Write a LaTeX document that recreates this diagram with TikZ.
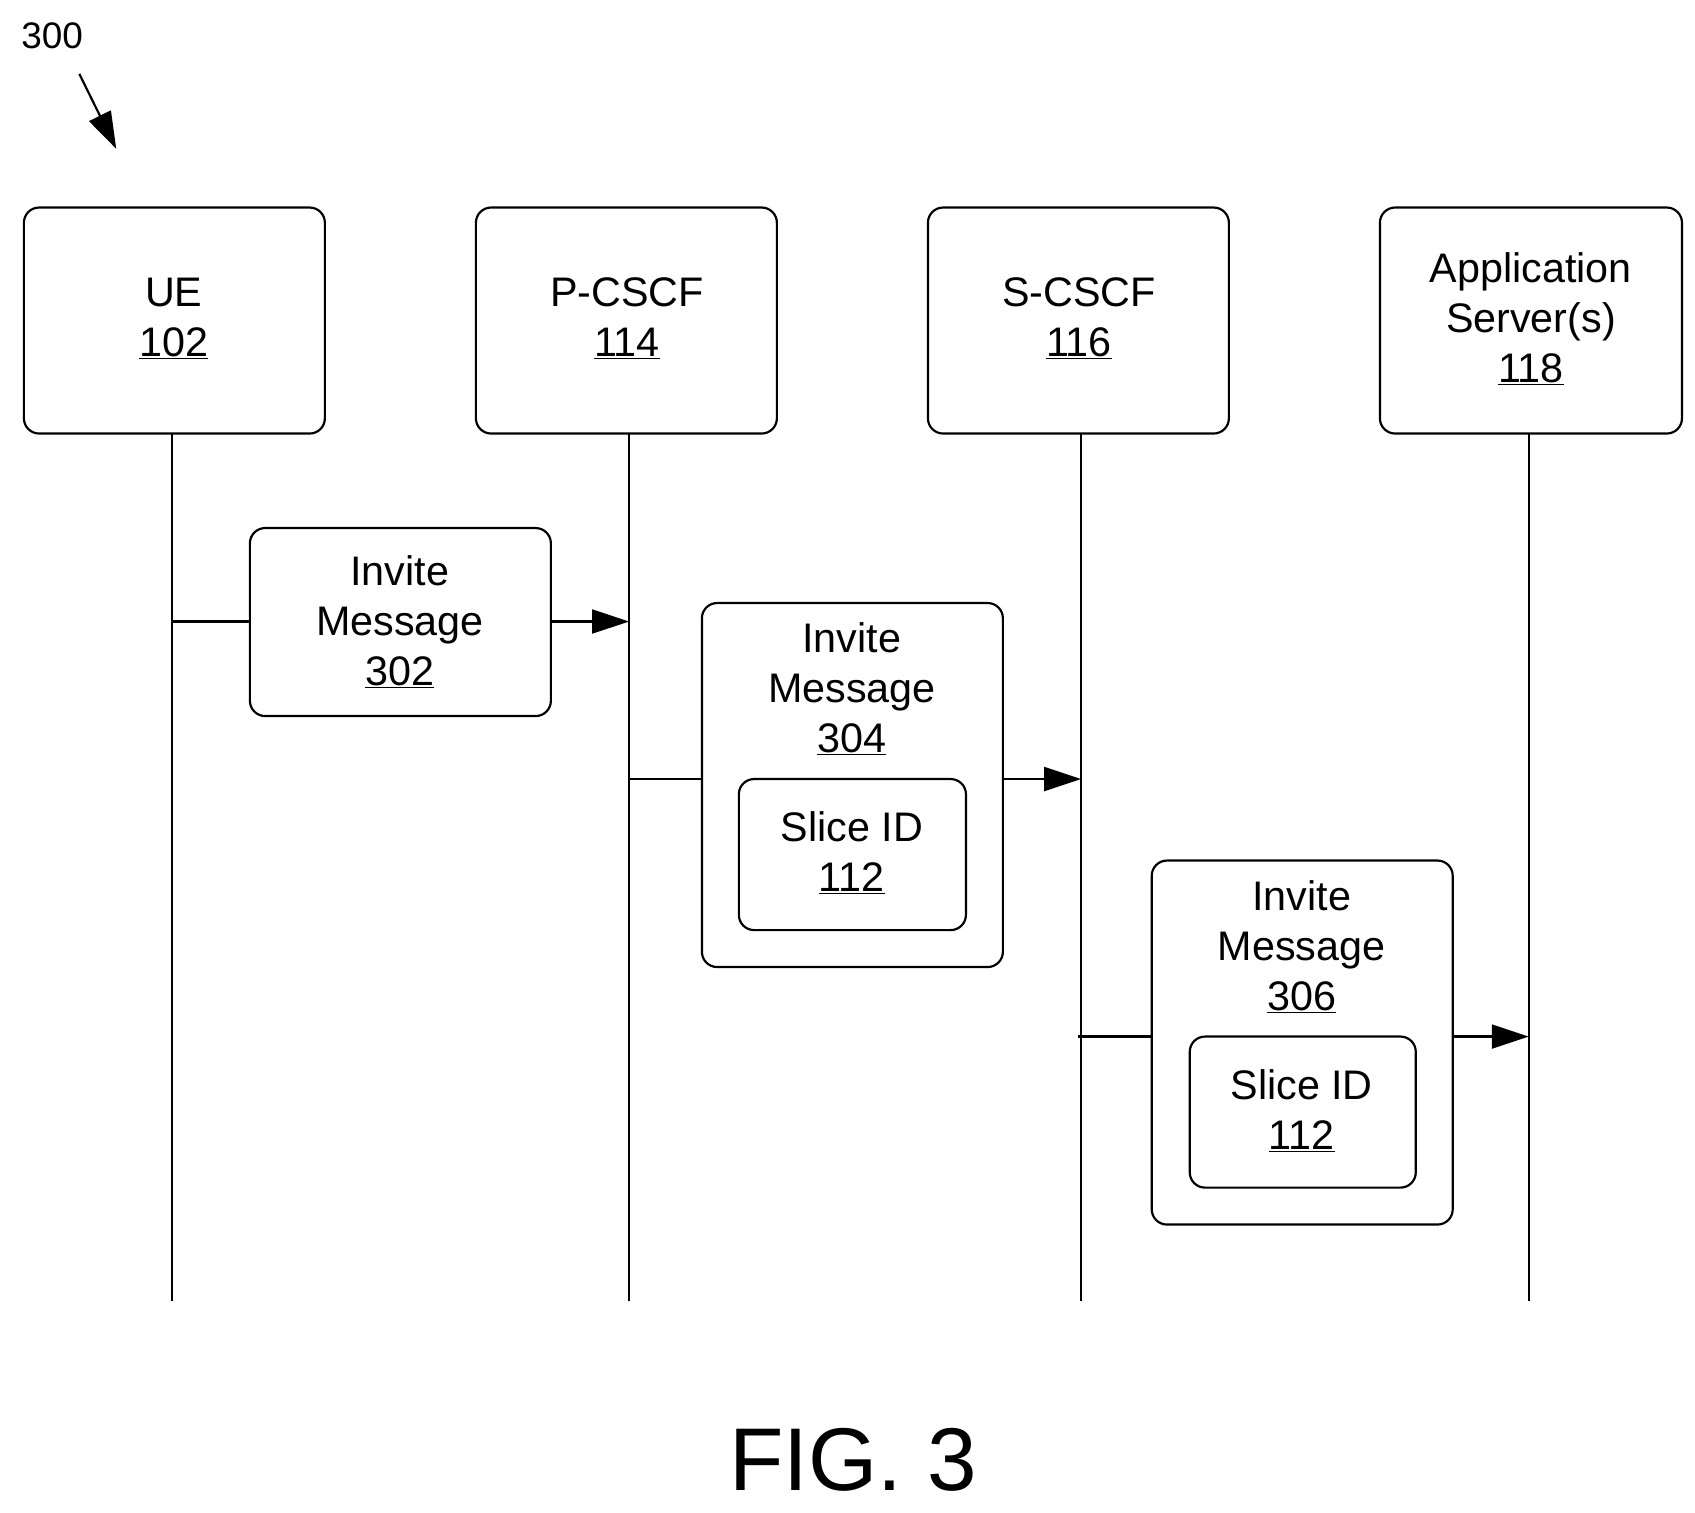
\documentclass[tikz,border=0pt]{standalone}
\usepackage{fontspec}
\setmainfont{Liberation Sans}
\usetikzlibrary{arrows.meta}
\begin{document}
\begin{tikzpicture}[x=1pt,y=-1pt,
  box/.style={draw,line width=2pt,rounded corners=14pt},
  txt/.style={align=center,font=\fontsize{38}{46}\selectfont},
  life/.style={line width=2pt},
  msg/.style={line width=2pt,-{Triangle[length=34pt,width=22pt]}}]
\useasboundingbox (0,0) rectangle (1560,1392);
\node[anchor=center,font=\fontsize{34}{40}\selectfont] (lbl) at (48,33) {300};
\coordinate (a1) at (73,68); \coordinate (a2) at (107,137);
\draw[msg] (a1) -- (a2);
% headers
\draw[box] (22,191) rectangle (299,399);
\node[txt] (ue) at (160,293) {UE\\\underline{102}};
\draw[box] (438,191) rectangle (715,399);
\node[txt] (pc) at (577,293) {P-CSCF\\\underline{114}};
\draw[box] (854,191) rectangle (1131,399);
\node[txt] (sc) at (993,293) {S-CSCF\\\underline{116}};
\draw[box] (1270,191) rectangle (1548,399);
\node[txt] (as) at (1409,293) {Application\\Server(s)\\\underline{118}};
% lifelines
\foreach \n/\x in {l1/158,l2/579,l3/995,l4/1407}{
  \coordinate (\n t) at (\x,399); \coordinate (\n b) at (\x,1197);
  \draw[life] (\n t) -- (\n b);}
% message 302
\coordinate (m1s) at (158,572); \coordinate (m1e) at (579,572);
\draw[msg] (m1s) -- (m1e);
\draw[box,fill=white] (230,486) rectangle (507,659);
\node[txt] (t302) at (368,572) {Invite\\Message\\\underline{302}};
% message 304
\coordinate (m2s) at (579,717); \coordinate (m2e) at (995,717);
\draw[msg] (m2s) -- (m2e);
\draw[box,fill=white] (646,555) rectangle (923,890);
\node[txt] (t304) at (784,634) {Invite\\Message\\\underline{304}};
\draw[box] (680,717) rectangle (889,856);
\node[txt] (s304) at (784,785) {Slice ID\\\underline{112}};
% message 306
\coordinate (m3s) at (992,954); \coordinate (m3e) at (1407,954);
\draw[msg] (m3s) -- (m3e);
\draw[box,fill=white] (1060,792) rectangle (1337,1127);
\node[txt] (t306) at (1198,871) {Invite\\Message\\\underline{306}};
\draw[box] (1095,954) rectangle (1303,1093);
\node[txt] (s306) at (1198,1022) {Slice ID\\\underline{112}};
\node[font=\fontsize{82}{86}\selectfont,inner sep=0pt] (fig) at (785,1344) {FIG. 3};
\end{tikzpicture}
\end{document}
